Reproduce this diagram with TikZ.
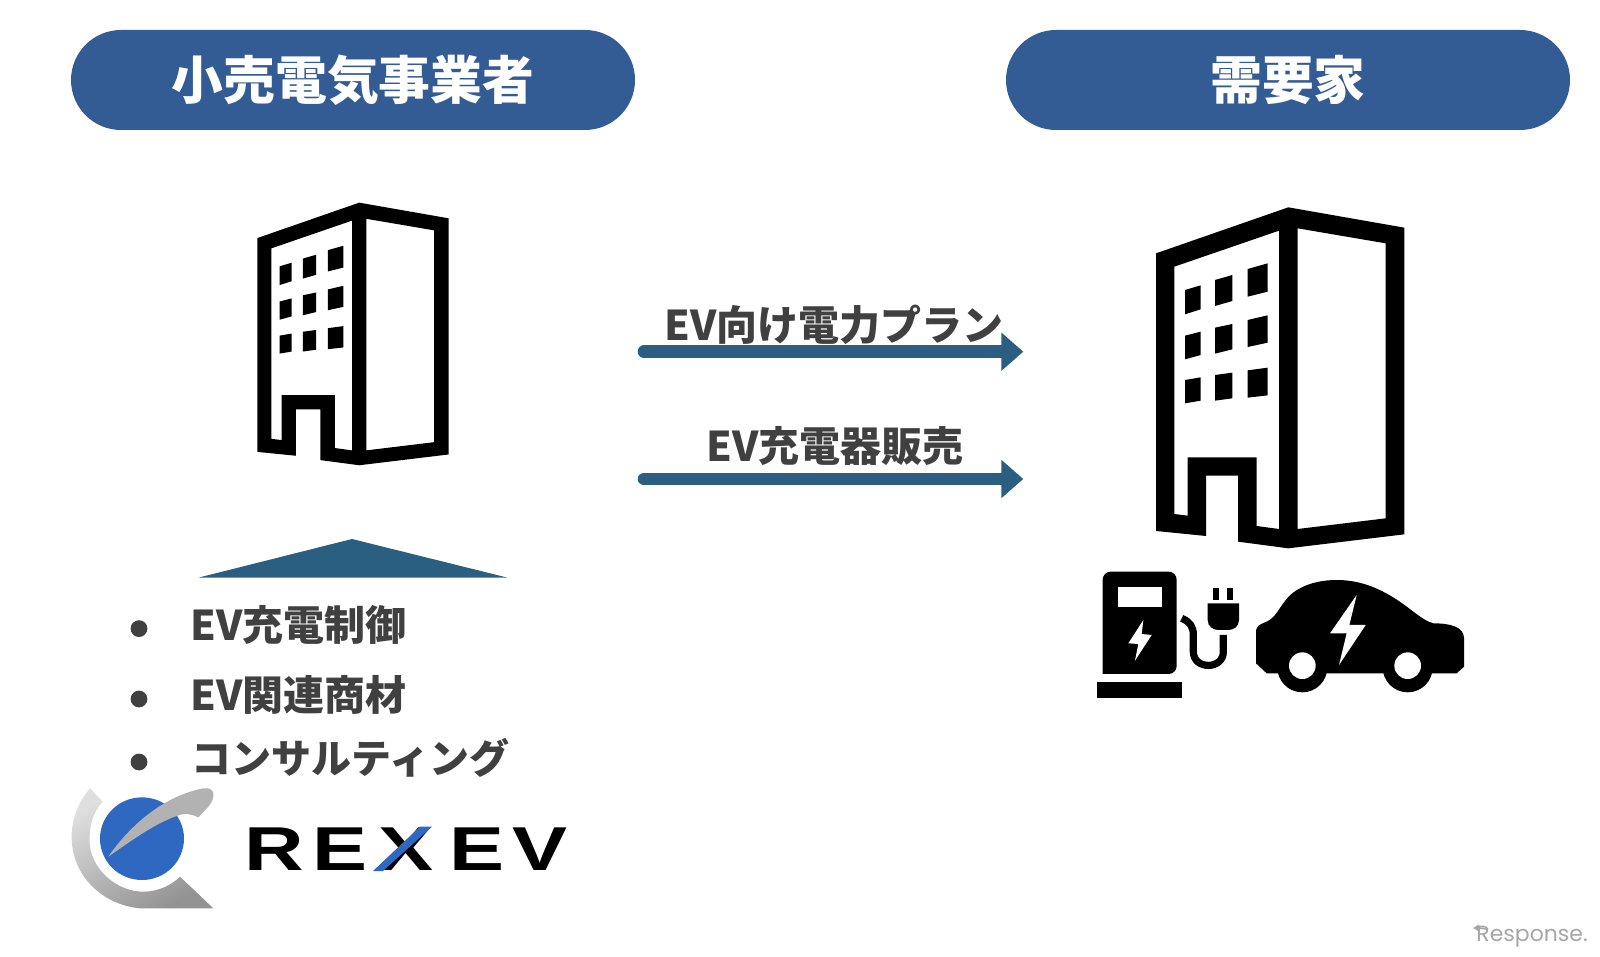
\documentclass[tikz,border=0pt]{standalone}
\usepackage{fontspec}
\newfontfamily\jpfont{Noto Sans CJK JP}
\newfontfamily\logofont{Liberation Sans}
\newfontfamily\markfont{Poppins}
\usetikzlibrary{arrows.meta}

\definecolor{pillblue}{HTML}{335C94}
\definecolor{arrowblue}{HTML}{2B5F82}
\definecolor{textgray}{HTML}{404040}
\definecolor{logoblue}{HTML}{2F68C0}

\tikzset{
    pillbox/.style = {fill = pillblue, text = white, rounded corners = 25pt, minimum width = 282pt, minimum height = 50pt, inner sep = 0pt, font = \jpfont\bfseries\fontsize{25.9}{30}\selectfont},
    offerlabel/.style = {text = textgray, inner sep = 0pt, font = \jpfont\bfseries\fontsize{20.5}{24}\selectfont},
    offerarrow/.style = {draw = arrowblue, line width = 6.3pt, line cap = round, -{Triangle[length = 11pt, width = 18.5pt]}},
    itemlabel/.style = {offerlabel, anchor = west},
    itemdot/.style = {circle, fill = textgray, minimum size = 8.4pt, inner sep = 0pt}
}

% drawn in the units of a 3x crop of the large building
\newcommand{\buildingicon}{
    \fill[even odd rule] (228, 190) -- (625, 52) -- (973, 113) -- (973, 1033) -- (625, 1075) -- (474, 1055) -- (474, 857) -- (378, 857) -- (378, 1038) -- (228, 1023) -- cycle
        (283, 230) -- (597, 122) -- (597, 1017) -- (530, 1008) -- (530, 802) -- (323, 802) -- (323, 977) -- (283, 972) -- cycle
        (653, 115) -- (917, 160) -- (917, 985) -- (653, 1017) -- cycle;
    \foreach \xa/\xb/\ya/\yb/\yc/\yd in {315/362/300/286/358/373, 405/457/270/255/333/348, 503/563/237/220/305/320,
        315/362/437/425/495/508, 405/457/413/402/478/491, 503/563/390/376/458/471,
        315/362/570/562/632/640, 405/457/555/548/625/632, 503/563/541/533/616/623}
        \fill (\xa, \ya) -- (\xb, \yb) -- (\xb, \yc) -- (\xa, \yd) -- cycle;
}

\begin{document}
\begin{tikzpicture}[x = 0.5pt, y = -0.5pt]
    \useasboundingbox (0, 0) rectangle (1600, 957);

    \node[pillbox] (retailer) at (353, 80){小売電気事業者};
    \node[pillbox] (customer) at (1288, 80){需要家};

    % buildings
    \begin{scope}[shift = {(198.8, 189.3)}, scale = 0.2567]
        \buildingicon
    \end{scope}
    \begin{scope}[shift = {(1080, 190)}, scale = 1/3]
        \buildingicon

        % charger
        \fill[rounded corners = 4pt] (68, 1452) -- (68, 1145) -- (290, 1145) -- (290, 1452) [sharp corners] -- cycle;
        \fill[white] (115, 1190) rectangle (245, 1250);
        \fill[white] (190, 1290) -- (145, 1360) -- (175, 1362) -- (165, 1412) -- (215, 1335) -- (185, 1332) -- cycle;
        \fill (50, 1477) rectangle (307, 1525);
        \draw[line width = 3.6pt] (305, 1285) .. controls (330, 1295) and (340, 1310) .. (340, 1335) -- (340, 1385) .. controls (340, 1440) and (430, 1440) .. (430, 1385) -- (430, 1335);
        \fill (383, 1240) -- (477, 1240) -- (477, 1290) .. controls (477, 1310) and (460, 1320) .. (445, 1320) -- (415, 1320) .. controls (400, 1320) and (383, 1310) .. (383, 1290) -- cycle;
        \fill (398, 1195) rectangle (418, 1230);
        \fill (440, 1195) rectangle (460, 1230);

        % car
        \fill (528, 1320) .. controls (530, 1300) and (560, 1300) .. (575, 1285) .. controls (600, 1265) and (610, 1220) .. (660, 1195) .. controls (690, 1178) and (730, 1170) .. (770, 1170) .. controls (860, 1170) and (930, 1210) .. (1000, 1265) .. controls (1020, 1280) and (1040, 1295) .. (1060, 1300) .. controls (1110, 1300) and (1152, 1310) .. (1152, 1345) -- (1152, 1430) -- (1130, 1450) -- (560, 1450) -- (528, 1420) -- cycle;
        \fill (667, 1432) circle (75);
        \fill (983, 1432) circle (75);
        \fill[white] (667, 1427) circle (40);
        \fill[white] (983, 1427) circle (40);
        \fill[white] (830, 1215) -- (750, 1330) -- (800, 1330) -- (777, 1425) -- (857, 1305) -- (808, 1305) -- cycle;
    \end{scope}

    % offers
    \coordinate (planstart) at (644, 351.7);
    \coordinate (planend) at (1023.3, 351.7);
    \coordinate (salesstart) at (644, 479);
    \coordinate (salesend) at (1023.3, 479);
    \draw[offerarrow] (planstart) -- (planend);
    \draw[offerarrow] (salesstart) -- (salesend);
    \node[offerlabel] (plan) at (834, 325){EV向け電力プラン};
    \node[offerlabel] (sales) at (835, 446){EV充電器販売};

    % services
    \fill[arrowblue] (199, 577.5) -- (352, 539) -- (507, 577.5) -- cycle;
    \node[itemdot] (dotone) at (139, 628.6){};
    \node[itemdot] (dottwo) at (139, 699){};
    \node[itemdot] (dotthree) at (139, 762){};
    \node[itemlabel] (control) at (190, 625){EV充電制御};
    \node[itemlabel] (goods) at (190, 695){EV関連商材};
    \node[itemlabel, font = \jpfont\bfseries\fontsize{20}{24}\selectfont] (consulting) at (191, 758){コンサルティング};

    % logo
    \begin{scope}[shift = {(60, 780)}, scale = 1/3]
        \shade[top color = gray!25, bottom color = gray!85, shading angle = 30] (90, 25) -- (128, 65) .. controls (95, 100) and (85, 150) .. (90, 200) .. controls (100, 270) and (170, 335) .. (250, 335) .. controls (295, 335) and (335, 315) .. (360, 290) -- (460, 385) -- (240, 385) .. controls (130, 375) and (35, 290) .. (35, 170) .. controls (35, 110) and (60, 60) .. (90, 25) -- cycle;
        \fill[logoblue] (246, 176) ellipse (126 and 124);
        \fill[white] (372, 100) -- (415, 110) -- (375, 180) -- cycle;
        \fill[gray!60] (145, 230) .. controls (200, 150) and (300, 50) .. (430, 25) .. controls (465, 20) and (470, 50) .. (445, 80) -- (415, 112) .. controls (400, 105) and (385, 100) .. (365, 103) .. controls (290, 125) and (210, 185) .. (145, 230) -- cycle;
    \end{scope}
    \node[font = \logofont\bfseries\fontsize{31}{35}\selectfont, xscale = 1.33, inner sep = 0pt] (rexev) at (406, 849){R\kern3ptE\kern4ptX\kern6ptE\kern3ptV};
    \fill[logoblue] (373, 871) -- (383, 871) -- (432, 826.7) -- (420, 826.7) -- cycle;

    % watermark
    \node[font = \markfont\fontsize{11}{13}\selectfont, text = gray!70, inner sep = 0pt] (mark) at (1532, 936.5){Response.};
    \fill[gray!70] (1473, 928) -- (1479, 924.5) -- (1479, 931.5) -- cycle;
    \draw[gray!70, line width = 0.8pt] (1478, 928) -- (1488, 929);
\end{tikzpicture}
\end{document}
